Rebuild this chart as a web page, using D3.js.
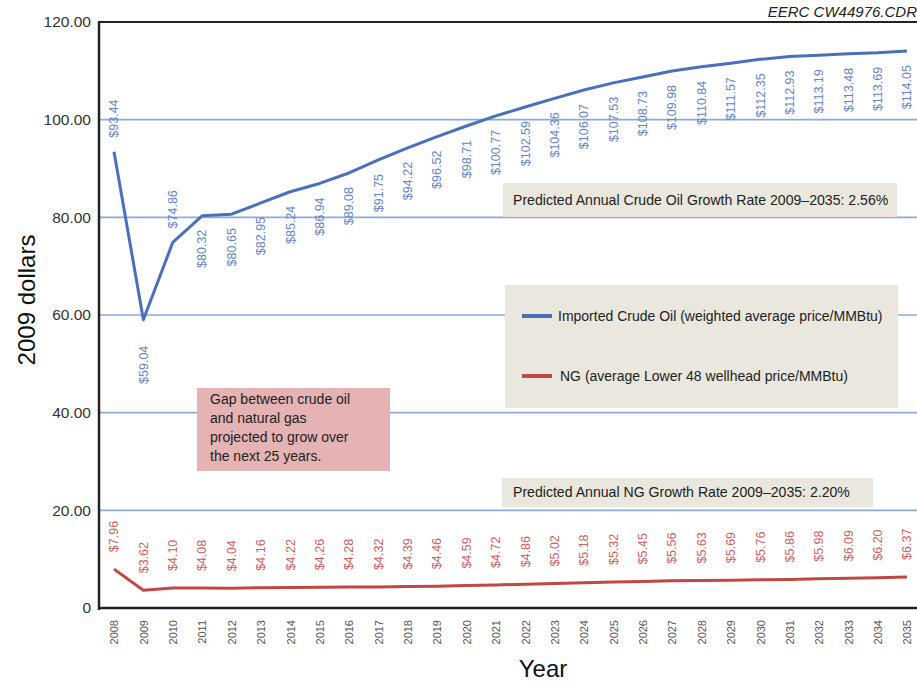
<!DOCTYPE html>
<html>
<head>
<meta charset="utf-8">
<script src="https://cdn.jsdelivr.net/npm/d3@7/dist/d3.min.js"></script>
<style>
  html, body { margin: 0; padding: 0; background: #fff; }
  svg { display: block; }
</style>
</head>
<body>
<svg id="chart" width="917" height="685"></svg>
<script>
// Years on the horizontal axis
const years = d3.range(2008, 2036);

// Imported crude oil, weighted average price (2009 $/MMBtu)
const crudeOil = [93.44, 59.04, 74.86, 80.32, 80.65, 82.95, 85.24, 86.94, 89.08, 91.75,
  94.22, 96.52, 98.71, 100.77, 102.59, 104.36, 106.07, 107.53, 108.73, 109.98,
  110.84, 111.57, 112.35, 112.93, 113.19, 113.48, 113.69, 114.05];

// Natural gas, average Lower 48 wellhead price (2009 $/MMBtu)
const naturalGas = [7.96, 3.62, 4.10, 4.08, 4.04, 4.16, 4.22, 4.26, 4.28, 4.32,
  4.39, 4.46, 4.59, 4.72, 4.86, 5.02, 5.18, 5.32, 5.45, 5.56,
  5.63, 5.69, 5.76, 5.86, 5.98, 6.09, 6.20, 6.37];

// Vertical axis ticks
const yTicks = [0, 20, 40, 60, 80, 100, 120];

// Legend entries
const legendLabels = [
  "Imported Crude Oil (weighted average price/MMBtu)",
  "NG (average Lower 48 wellhead price/MMBtu)"
];

const noteLines = [
  "Gap between crude oil",
  "and natural gas",
  "projected to grow over",
  "the next 25 years."
];

const crudeRate = "Predicted Annual Crude Oil Growth Rate 2009\u20132035: 2.56%";
const gasRate = "Predicted Annual NG Growth Rate 2009\u20132035: 2.20%";

const colors = {
  crude: "#4a70bc",
  crudeLabel: "#6584c6",
  gas: "#bf4744",
  gasLabel: "#c9625f",
  grid: "#8eaad8",
  box: "#e9e7de",
  note: "#e5b3b3"
};

const svg = d3.select("#chart");
const plotLeft = 99, plotRight = 917, plotTop = 22, plotBottom = 608;

const x = d3.scaleLinear().domain([2008, 2035]).range([114, 907]);
const y = d3.scaleLinear().domain([0, 120]).range([plotBottom, plotTop]);

// Horizontal gridlines
svg.append("g")
  .selectAll("line")
  .data(yTicks.filter(t => t > 0 && t < 120))
  .join("line")
  .attr("x1", plotLeft).attr("x2", plotRight)
  .attr("y1", d => y(d)).attr("y2", d => y(d))
  .attr("stroke", colors.grid)
  .attr("stroke-width", 1.6);

// Y axis tick labels
const yAxis = d3.axisLeft(y)
  .tickValues(yTicks)
  .tickSize(0)
  .tickPadding(8)
  .tickFormat(d => d === 0 ? "0" : d.toFixed(2));
const gy = svg.append("g").attr("transform", `translate(${plotLeft},0)`).call(yAxis);
gy.select(".domain").remove();
gy.selectAll("text")
  .attr("font-family", "Liberation Sans, Arial, sans-serif")
  .attr("font-size", 15.5)
  .attr("fill", "#333");

// X axis tick labels (rotated)
const xAxis = d3.axisBottom(x).tickValues(years).tickSize(0).tickFormat(d3.format("d"));
const gx = svg.append("g").attr("transform", `translate(0,${plotBottom})`).call(xAxis);
gx.select(".domain").remove();
gx.selectAll("text")
  .attr("font-family", "Liberation Sans Narrow, Liberation Sans, Arial, sans-serif")
  .attr("font-size", 11)
  .attr("fill", "#555")
  .attr("text-anchor", "end")
  .attr("transform", "rotate(-90)")
  .attr("x", -12)
  .attr("y", 0)
  .attr("dy", "0.35em");

// Frame: left axis, top edge, bottom axis
svg.append("line").attr("x1", plotLeft).attr("x2", plotLeft).attr("y1", plotTop).attr("y2", plotBottom + 2)
  .attr("stroke", "#222").attr("stroke-width", 2.5);
svg.append("line").attr("x1", plotLeft - 1).attr("x2", plotRight).attr("y1", plotTop).attr("y2", plotTop)
  .attr("stroke", "#222").attr("stroke-width", 2);
svg.append("line").attr("x1", plotLeft - 1).attr("x2", plotRight).attr("y1", plotBottom).attr("y2", plotBottom)
  .attr("stroke", "#222").attr("stroke-width", 2.5);

// Annotation boxes
function box(x0, y0, w, h, fill) {
  svg.append("rect").attr("x", x0).attr("y", y0).attr("width", w).attr("height", h).attr("fill", fill);
}
box(503, 183, 394, 34, colors.box);
box(505, 285, 393, 123, colors.box);
box(502, 478, 371, 29, colors.box);
box(197, 388, 193, 83, colors.note);

const sans = "Liberation Sans, Arial, sans-serif";
svg.append("text").attr("x", 513).attr("y", 205)
  .attr("font-family", sans).attr("font-size", 14.1).attr("fill", "#222").text(crudeRate);
svg.append("text").attr("x", 513).attr("y", 497)
  .attr("font-family", sans).attr("font-size", 14.1).attr("fill", "#222").text(gasRate);

// Legend
const legend = svg.append("g");
[colors.crude, colors.gas].forEach((c, i) => {
  const ly = 316 + i * 60;
  legend.append("line").attr("x1", 522).attr("x2", 552).attr("y1", ly).attr("y2", ly)
    .attr("stroke", c).attr("stroke-width", 4);
  legend.append("text").attr("x", 558 + i * 2).attr("y", ly + 5)
    .attr("font-family", sans).attr("font-size", 14).attr("fill", "#222")
    .text(legendLabels[i]);
});

// Note in pink box
svg.append("text").attr("font-family", sans).attr("font-size", 14).attr("fill", "#222")
  .selectAll("tspan").data(noteLines).join("tspan")
  .attr("x", 210).attr("y", (d, i) => 404 + i * 19).text(d => d);

// Series lines
const line = d3.line().x((d, i) => x(years[i])).y(d => y(d));
svg.append("path").datum(crudeOil).attr("d", line)
  .attr("fill", "none").attr("stroke", colors.crude).attr("stroke-width", 3)
  .attr("stroke-linejoin", "round");
svg.append("path").datum(naturalGas).attr("d", line)
  .attr("fill", "none").attr("stroke", colors.gas).attr("stroke-width", 3)
  .attr("stroke-linejoin", "round");

// Value labels: crude labels sit above the first rising points, below elsewhere
const labelFont = "Liberation Sans Narrow, Liberation Sans, Arial, sans-serif";
const crudeAbove = i => i === 0 || i === 2;
svg.append("g").selectAll("text").data(crudeOil).join("text")
  .attr("transform", (d, i) => {
    const gap = crudeAbove(i) ? -14 : (i === 1 ? 26 : 14);
    return `translate(${x(years[i])},${y(d) + gap}) rotate(-90)`;
  })
  .attr("text-anchor", (d, i) => crudeAbove(i) ? "start" : "end")
  .attr("dy", "0.35em")
  .attr("font-family", labelFont).attr("font-size", 12.5)
  .attr("fill", colors.crudeLabel)
  .text(d => "$" + d.toFixed(2));

svg.append("g").selectAll("text").data(naturalGas).join("text")
  .attr("transform", (d, i) => `translate(${x(years[i])},${y(d) - 17}) rotate(-90)`)
  .attr("text-anchor", "start")
  .attr("dy", "0.35em")
  .attr("font-family", labelFont).attr("font-size", 12.5)
  .attr("fill", colors.gasLabel)
  .text(d => "$" + d.toFixed(2));

// Axis titles
svg.append("text").attr("transform", "translate(35,300) rotate(-90)")
  .attr("text-anchor", "middle").attr("font-family", sans).attr("font-size", 24).attr("fill", "#111")
  .text("2009 dollars");
svg.append("text").attr("x", 543).attr("y", 677).attr("text-anchor", "middle")
  .attr("font-family", sans).attr("font-size", 24).attr("fill", "#111").text("Year");

// Drawing reference tag
svg.append("text").attr("x", 917).attr("y", 17).attr("text-anchor", "end")
  .attr("font-family", sans).attr("font-size", 15).attr("font-style", "italic").attr("fill", "#222")
  .text("EERC CW44976.CDR");
</script>
</body>
</html>
